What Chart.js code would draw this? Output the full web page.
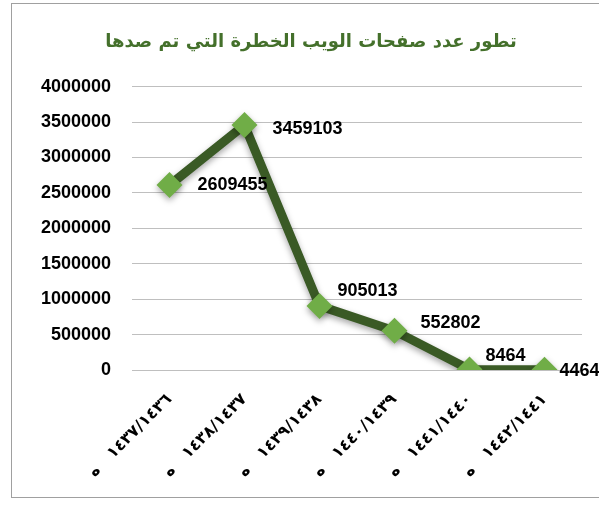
<!DOCTYPE html>
<html>
<head>
<meta charset="utf-8">
<script src="https://cdn.jsdelivr.net/npm/chart.js@4.4.0/dist/chart.umd.min.js"></script>
<style>
    html, body { margin: 0; padding: 0; background: #fff; }
    #frame {
        position: absolute; left: 11px; top: 3px;
        width: 600px; height: 493px;
        border: 1px solid #a0a0a0;
    }
    #wrap { position: absolute; left: 0; top: 0; width: 599px; height: 505px; }
</style>
</head>
<body>
<div id="frame"></div>
<div id="wrap"><canvas id="chart"></canvas></div>
<script>
// hijri years (as shown on the axis) and number of blocked pages
const years = ['١٤٣٧/١٤٣٦', '١٤٣٨/١٤٣٧', '١٤٣٩/١٤٣٨', '١٤٤٠/١٤٣٩', '١٤٤١/١٤٤٠', '١٤٤٢/١٤٤١'];
const yearSuffix = 'ه';
const pages = [2609455, 3459103, 905013, 552802, 8464, 4464];
const yMax = 4000000;
const yStep = 500000;
const title = 'تطور عدد صفحات الويب الخطرة التي تم صدها';

// Value labels next to each marker
const valueLabels = {
    id: 'valueLabels',
    afterDatasetsDraw(chart, args, opts) {
        const ctx = chart.ctx;
        const meta = chart.getDatasetMeta(0);
        const values = chart.data.datasets[0].data;
        ctx.save();
        ctx.font = opts.font;
        ctx.fillStyle = opts.color;
        ctx.textAlign = 'left';
        ctx.textBaseline = 'middle';
        meta.data.forEach((pt, i) => {
            const off = opts.offsets[i] || [25, 0];
            ctx.fillText(String(values[i]), pt.x + off[0], pt.y + off[1]);
        });
        ctx.restore();
    }
};

// Soft drop shadow under the line and markers
const softShadow = {
    id: 'softShadow',
    beforeDatasetsDraw(chart) {
        const ctx = chart.ctx;
        ctx.save();
        ctx.shadowColor = 'rgba(0, 0, 0, 0.35)';
        ctx.shadowBlur = 6;
        ctx.shadowOffsetY = 3;
    },
    afterDatasetsDraw(chart) {
        chart.ctx.restore();
    }
};

new Chart(document.getElementById('chart'), {
    type: 'line',
    data: {
        labels: years,
        datasets: [{
            data: pages,
            borderColor: '#3A5A25',
            borderWidth: 9,
            tension: 0,
            pointStyle: 'rectRot',
            pointRadius: 13,
            pointHoverRadius: 13,
            pointBackgroundColor: '#70AD47',
            pointBorderColor: '#70AD47',
            pointBorderWidth: 0
        }]
    },
    plugins: [softShadow, valueLabels],
    options: {
        responsive: true,
        maintainAspectRatio: false,
        animation: false,
        layout: { padding: { left: 40, right: 17, top: 0, bottom: 0 } },
        plugins: {
            legend: { display: false },
            tooltip: { enabled: false },
            title: {
                display: true,
                text: title,
                color: '#44702B',
                font: { family: "'DejaVu Sans', Arial, sans-serif", size: 18, weight: 'bold' },
                padding: { top: 32, bottom: 33 }
            },
            valueLabels: {
                font: "bold 18px 'Liberation Sans', Arial, sans-serif",
                color: '#000',
                offsets: [[28, 0], [28, 4], [18, -15], [26, -8], [16, -13], [15, 1]]
            }
        },
        scales: {
            x: {
                offset: true,
                grid: { display: false },
                border: { display: false },
                ticks: {
                    autoSkip: false,
                    minRotation: 45,
                    maxRotation: 45,
                    padding: 12,
                    color: '#000',
                    font: { family: "'DejaVu Sans', Arial, sans-serif", size: 16, weight: 'bold' },
                    callback(value, index) {
                        return '\u202D' + yearSuffix + '   ' + years[index] + '\u202C';
                    }
                },
                afterFit(scale) { scale.height = 135; }
            },
            y: {
                min: 0,
                max: yMax,
                grid: { color: '#bfbfbf', lineWidth: 1, drawTicks: false },
                border: { display: false },
                ticks: {
                    stepSize: yStep,
                    padding: 21,
                    color: '#000',
                    font: { family: "'Liberation Sans', Arial, sans-serif", size: 18, weight: 'bold' },
                    callback: v => String(v)
                },
                afterFit(scale) { scale.width = 92; }
            }
        }
    }
});
</script>
</body>
</html>
